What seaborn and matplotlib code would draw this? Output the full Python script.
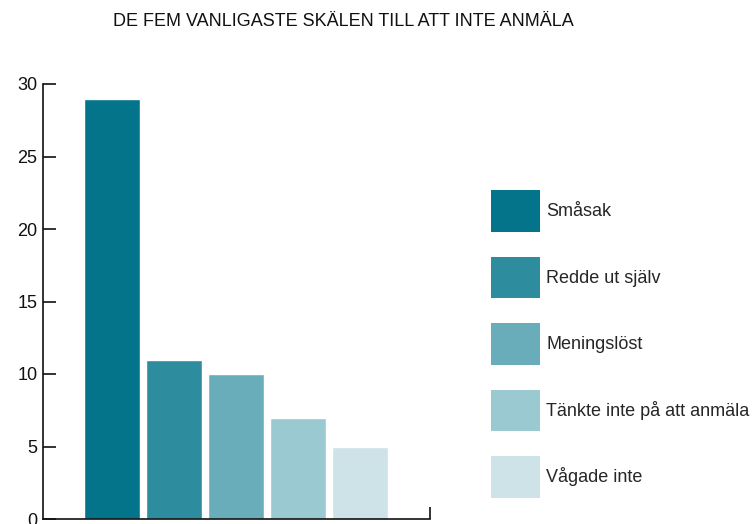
import matplotlib
matplotlib.use("Agg")
import matplotlib.pyplot as plt
from matplotlib.patches import Patch
import seaborn as sns
import pandas as pd

# data
reasons = ["Småsak", "Redde ut själv", "Meningslöst", "Tänkte inte på att anmäla", "Vågade inte"]
counts = [29, 11, 10, 7, 5]
colors = ["#037489", "#2d8c9e", "#69adbb", "#9bc9d1", "#cde3e8"]
title = "DE FEM VANLIGASTE SKÄLEN TILL ATT INTE ANMÄLA"

sns.set_style("white")
plt.rcParams["font.family"] = ["Liberation Sans", "DejaVu Sans"]

df = pd.DataFrame({"reason": reasons, "count": counts})

fig = plt.figure(figsize=(7.54, 5.24), dpi=100)
ax = fig.add_axes([43 / 754, 5 / 524, (430 - 43) / 754, (519 - 84) / 524])

sns.barplot(data=df, x="reason", y="count", hue="reason", order=reasons,
            hue_order=reasons, palette=colors, width=0.9, saturation=1,
            legend=False, ax=ax)

ax.set_xlim(-1.113, 5.13)
ax.set_ylim(0, 30)
ax.set_yticks([0, 5, 10, 15, 20, 25, 30])
ax.set_xticks([5.13])
ax.set_xticklabels([""])
ax.set_xlabel("")
ax.set_ylabel("")
ax.tick_params(axis="y", left=True, direction="in", length=9, width=1.2, pad=4,
               labelsize=13, colors="#111111")
ax.tick_params(axis="x", bottom=True, direction="in", length=9, width=1.2,
               colors="#111111")
for side in ["top", "right"]:
    ax.spines[side].set_visible(False)
for side in ["left", "bottom"]:
    ax.spines[side].set_color("#111111")
    ax.spines[side].set_linewidth(1.2)

handles = [Patch(facecolor=c, edgecolor="none") for c in colors]
fig.legend(handles, reasons, loc="upper left", bbox_to_anchor=(491 / 754, 1 - 190 / 524),
           frameon=False, fontsize=13, handlelength=2.7, handleheight=3.17,
           labelspacing=1.38, handletextpad=0.35, borderpad=0, borderaxespad=0)

fig.text(343 / 754, 1 - 22 / 524, title, ha="center", va="center", fontsize=13,
         color="#111111")

fig.savefig("out.png", dpi=100)
